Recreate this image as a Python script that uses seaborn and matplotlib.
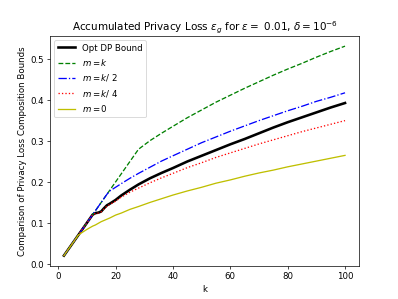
import numpy as np
import seaborn as sns
import matplotlib
matplotlib.use('Agg')
import matplotlib.pyplot as plt

# number of compositions
k = [2, 7, 8, 10, 12, 13, 14, 15, 16, 17, 18, 20, 22, 25, 28, 32, 36, 40,
     45, 50, 55, 60, 65, 70, 75, 80, 85, 90, 95, 100]

opt_dp = [0.02, 0.07, 0.08, 0.10, 0.12, 0.124, 0.125, 0.128, 0.136, 0.143,
          0.147, 0.156, 0.167, 0.181, 0.194, 0.209, 0.222, 0.234, 0.25, 0.264,
          0.278, 0.292, 0.305, 0.319, 0.333, 0.346, 0.358, 0.37, 0.382, 0.393]
m_k = [0.02, 0.07, 0.08, 0.10, 0.12, 0.13, 0.14, 0.15, 0.16, 0.17,
       0.18, 0.20, 0.22, 0.25, 0.28, 0.301, 0.319, 0.336, 0.357, 0.376,
       0.395, 0.412, 0.429, 0.445, 0.461, 0.476, 0.490, 0.505, 0.519, 0.532]
m_k2 = [0.02, 0.07, 0.08, 0.10, 0.12, 0.13, 0.14, 0.15, 0.16, 0.17,
        0.178, 0.187, 0.196, 0.209, 0.221, 0.236, 0.251, 0.264, 0.280, 0.296,
        0.310, 0.324, 0.337, 0.350, 0.362, 0.374, 0.385, 0.397, 0.407, 0.418]
m_k4 = [0.02, 0.07, 0.08, 0.10, 0.12, 0.123, 0.124, 0.127, 0.134, 0.141,
        0.145, 0.153, 0.163, 0.175, 0.185, 0.198, 0.21, 0.221, 0.235, 0.247,
        0.26, 0.271, 0.282, 0.293, 0.303, 0.313, 0.323, 0.332, 0.341, 0.35]
m_0 = [0.02, 0.07, 0.075, 0.084, 0.092, 0.095, 0.099, 0.103, 0.106, 0.109,
       0.112, 0.119, 0.124, 0.133, 0.140, 0.150, 0.159, 0.168, 0.178, 0.187,
       0.197, 0.205, 0.214, 0.222, 0.229, 0.237, 0.244, 0.251, 0.258, 0.265]

fig, ax = plt.subplots(figsize=(6.4, 4.8), dpi=62.34)

sns.lineplot(x=k, y=opt_dp, ax=ax, color='k', linewidth=3, label='Opt DP Bound')
sns.lineplot(x=k, y=m_k, ax=ax, color='g', linestyle='--', label=r'$m=k$')
sns.lineplot(x=k, y=m_k2, ax=ax, color='b', linestyle='-.', label=r'$m=k/$ 2')
sns.lineplot(x=k, y=m_k4, ax=ax, color='r', linestyle=':', label=r'$m=k/$ 4')
sns.lineplot(x=k, y=m_0, ax=ax, color='y', label=r'$m=0$')

ax.set_title(r'Accumulated Privacy Loss $\epsilon_g$ for $\epsilon=$ 0.01, $\delta=10^{-6}$')
ax.set_xlabel('k')
ax.set_ylabel('Comparison of Privacy Loss Composition Bounds')
ax.legend(loc='upper left')

plt.savefig('out.png', dpi=62.34)
